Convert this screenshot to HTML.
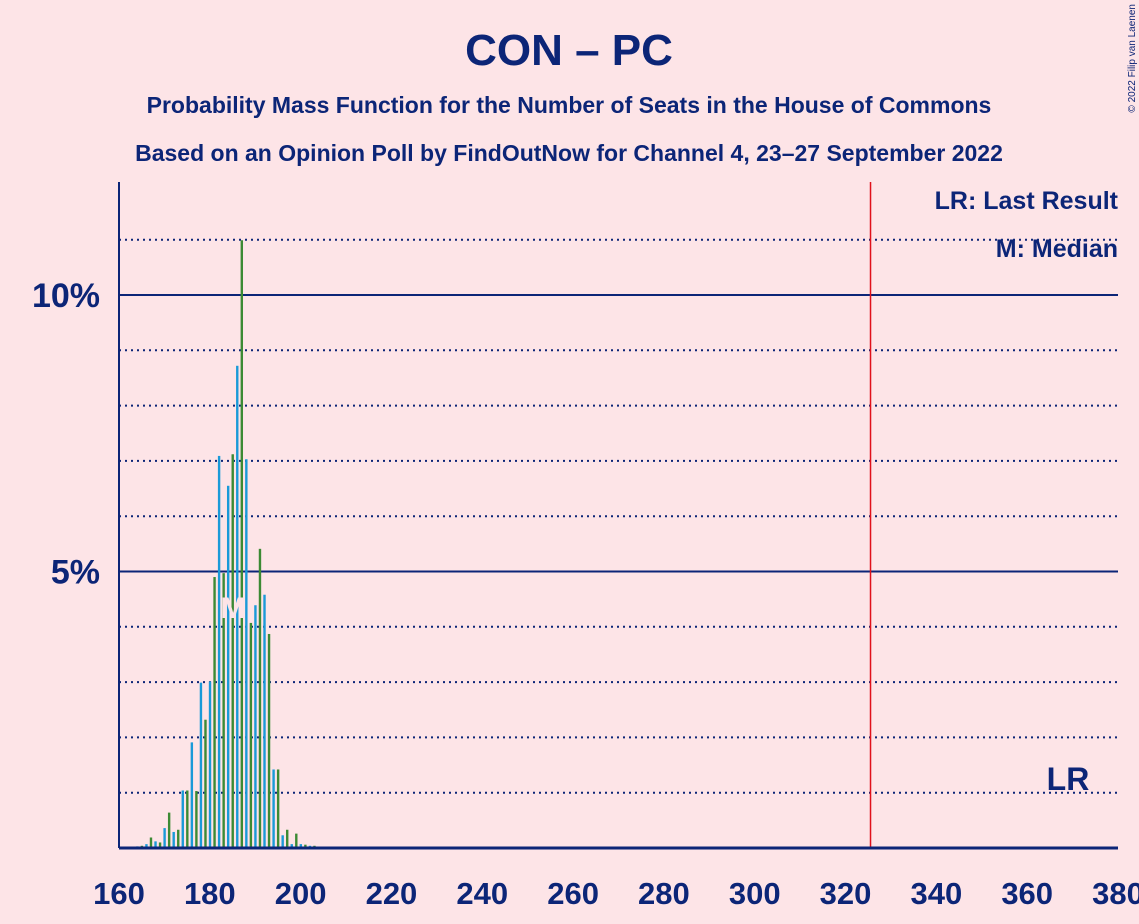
<!DOCTYPE html>
<html><head><meta charset="utf-8"><style>
body{margin:0;background:#fde4e7;}
svg{display:block;font-family:"Liberation Sans",sans-serif;}
</style></head><body>
<svg id="chart" width="1139" height="924" viewBox="0 0 1139 924" xmlns="http://www.w3.org/2000/svg">
<rect width="1139" height="924" fill="#fde4e7"/>
<text x="569" y="65" text-anchor="middle" font-size="44" font-weight="bold" fill="#0c2577">CON – PC</text>
<text x="569" y="113" text-anchor="middle" font-size="23" font-weight="bold" fill="#0c2577">Probability Mass Function for the Number of Seats in the House of Commons</text>
<text x="569" y="161" text-anchor="middle" font-size="23" font-weight="bold" fill="#0c2577">Based on an Opinion Poll by FindOutNow for Channel 4, 23–27 September 2022</text>
<text x="1135" y="4" font-size="10" fill="#0c2577" transform="rotate(-90 1135 4)" text-anchor="end">© 2022 Filip van Laenen</text>
<g id="grid"></g><g id="bars"></g><g id="axes"></g>
<text x="1118" y="209" text-anchor="end" font-size="25" font-weight="bold" fill="#0c2577">LR: Last Result</text>
<text x="1118" y="257" text-anchor="end" font-size="25" font-weight="bold" fill="#0c2577">M: Median</text>
</svg>
<script>
const seats=[160,161,162,163,164,165,166,167,168,169,170,171,172,173,174,175,176,177,178,179,180,181,182,183,184,185,186,187,188,189,190,191,192,193,194,195,196,197,198,199,200,201,202,203,204,205];
const probs=[0.01,0.01,0.02,0.02,0.03,0.04,0.07,0.19,0.12,0.1,0.36,0.64,0.29,0.33,1.04,1.04,1.91,1.03,2.99,2.32,3.01,4.9,7.09,4.97,6.55,7.12,8.72,10.99,7.03,4.07,4.39,5.41,4.58,3.87,1.42,1.42,0.23,0.33,0.07,0.26,0.07,0.06,0.04,0.04,0.02,0.01];
const xTicks=[160,180,200,220,240,260,280,300,320,340,360,380];
const yTicks=[5,10];
const yDotted=[1,2,3,4,6,7,8,9,11];
const medianSeat=186;
const lastResultSeat=325.5;
const x0=119,x1=1118,y0=848,yTop=182;
const X=s=>x0+(s-160)*(x1-x0)/220;
const Y=p=>y0-p*55.3;
const NS="http://www.w3.org/2000/svg";
function mk(t,a,p){const e=document.createElementNS(NS,t);for(const k in a)e.setAttribute(k,a[k]);p.appendChild(e);return e;}
const grid=document.getElementById('grid'),bars=document.getElementById('bars'),axes=document.getElementById('axes');
yDotted.forEach(v=>{const l=mk('line',{x1:x0,x2:x1,y1:Y(v),y2:Y(v),stroke:'#0c2577','stroke-width':2,'stroke-dasharray':'2,4'},grid);

});
yTicks.forEach(v=>{const l=mk('line',{x1:x0,x2:x1,y1:Y(v),y2:Y(v),stroke:'#0c2577','stroke-width':2},grid);


const t=mk('text',{x:100,y:Y(v)+12,'text-anchor':'end','font-size':34,'font-weight':'bold',fill:'#0c2577'},axes);t.textContent=v+'%';

});
seats.forEach((s,i)=>{const r=mk('rect',{x:X(s)-1,y:Y(probs[i]),width:2.4,height:probs[i]*55.3,fill:s%2===0?'#1a9ad8':'#3c8a34'},bars);

});
const m=mk('text',{x:X(medianSeat)-4,y:618,'text-anchor':'middle','font-size':30,fill:'#fde4e7','font-weight':'bold'},bars);m.textContent='M';


const lr=mk('line',{x1:X(lastResultSeat),x2:X(lastResultSeat),y1:yTop,y2:y0,stroke:'#e0101a','stroke-width':1.5},axes);


const lrt=mk('text',{x:1068,y:790,'text-anchor':'middle','font-size':32,'font-weight':'bold',fill:'#0c2577'},axes);lrt.textContent='LR';


const ya=mk('line',{x1:x0,x2:x0,y1:yTop,y2:y0,stroke:'#0c2577','stroke-width':2},axes);


const xa=mk('line',{x1:x0,x2:x1,y1:y0,y2:y0,stroke:'#0c2577','stroke-width':3},axes);


xTicks.forEach(v=>{const t=mk('text',{x:X(v),y:904,'text-anchor':'middle','font-size':31,'font-weight':'bold',fill:'#0c2577'},axes);t.textContent=v;

});
</script>
</body></html>
